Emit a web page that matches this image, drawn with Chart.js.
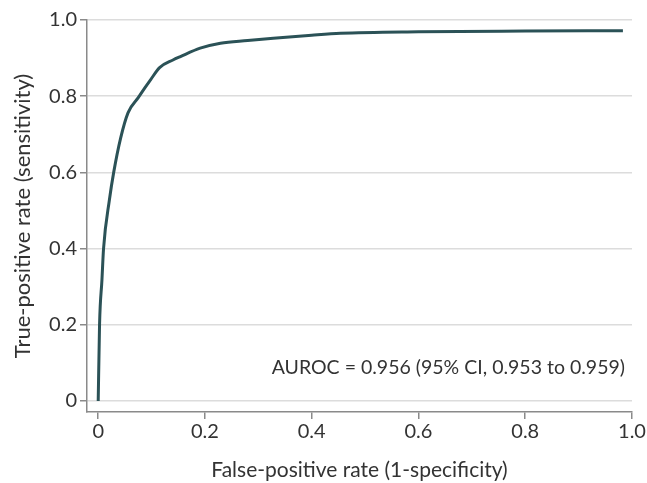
<!DOCTYPE html>
<html>
<head>
<meta charset="utf-8">
<script src="https://cdn.jsdelivr.net/npm/chart.js@4"></script>
<style>
  html, body { margin: 0; padding: 0; background: #fff; }
  #wrap { width: 647px; height: 483px; position: relative; }
</style>
</head>
<body>
<div id="wrap"><canvas id="rocChart"></canvas></div>
<script>
// ROC curve
const fprValues = [0, 0.0025, 0.007, 0.01, 0.021, 0.029, 0.042, 0.056, 0.075, 0.088, 0.098, 0.115, 0.14, 0.154, 0.191, 0.229, 0.28, 0.328, 0.4, 0.454, 0.6, 0.8, 0.983];
const tprValues = [0, 0.2, 0.318, 0.4, 0.528, 0.6, 0.69, 0.757, 0.796, 0.823, 0.843, 0.875, 0.895, 0.904, 0.926, 0.939, 0.946, 0.952, 0.96, 0.965, 0.969, 0.971, 0.972];
const xTicks = [0, 0.2, 0.4, 0.6, 0.8, 1.0];
const yTicks = [0, 0.2, 0.4, 0.6, 0.8, 1.0];
const aurocText = 'AUROC = 0.956 (95% CI, 0.953 to 0.959)';

const FONT = "Lato, 'Open Sans', sans-serif";
const TEXT_COLOR = '#333';
const AXIS_COLOR = '#8a8a8a';

const fmtTick = (v) => v === 0 ? '0' : v.toFixed(1);

const points = fprValues.map((x, i) => ({ x: x, y: tprValues[i] }));

// annotation text in the lower right of the plot
const aurocLabel = {
    id: 'aurocLabel',
    afterDatasetsDraw(chart) {
        const { ctx, chartArea } = chart;
        ctx.save();
        ctx.font = `19.5px ${FONT}`;
        ctx.fillStyle = TEXT_COLOR;
        ctx.textAlign = 'right';
        ctx.textBaseline = 'middle';
        ctx.fillText(aurocText, chartArea.right - 7, chartArea.bottom - 44);
        ctx.restore();
    }
};

const ctx = document.getElementById('rocChart').getContext('2d');
new Chart(ctx, {
    type: 'line',
    data: {
        datasets: [{
            data: points,
            borderColor: '#2b5257',
            borderWidth: 3,
            pointRadius: 0,
            fill: false,
            cubicInterpolationMode: 'monotone'
        }]
    },
    options: {
        responsive: true,
        maintainAspectRatio: false,
        animation: false,
        layout: { padding: { left: 0, right: 15, top: 20, bottom: 0 } },
        plugins: { legend: { display: false }, tooltip: { enabled: false } },
        scales: {
            x: {
                type: 'linear',
                min: -0.021,
                max: 1.0,
                afterBuildTicks: (axis) => { axis.ticks = xTicks.map(v => ({ value: v })); },
                afterFit: (axis) => { axis.height = 71; },
                border: { display: true, color: AXIS_COLOR, width: 1.5 },
                grid: { drawOnChartArea: false, drawTicks: true, tickLength: 7, color: AXIS_COLOR, lineWidth: 1.5 },
                ticks: {
                    color: TEXT_COLOR,
                    font: { family: FONT, size: 20 },
                    padding: 1,
                    maxRotation: 0,
                    callback: (v) => fmtTick(v)
                },
                title: {
                    display: true,
                    text: 'False-positive rate (1-specificity)',
                    color: TEXT_COLOR,
                    font: { family: FONT, size: 21 },
                    padding: { top: 4, bottom: 0 }
                }
            },
            y: {
                type: 'linear',
                min: -0.029,
                max: 1.0,
                afterBuildTicks: (axis) => { axis.ticks = yTicks.map(v => ({ value: v })); },
                afterFit: (axis) => { axis.width = 87; },
                border: { display: true, color: AXIS_COLOR, width: 1.5 },
                grid: { drawOnChartArea: true, drawTicks: true, tickLength: 7, color: '#dcdcdc', tickColor: AXIS_COLOR, lineWidth: 1.5 },
                ticks: {
                    color: TEXT_COLOR,
                    font: { family: FONT, size: 20 },
                    padding: 3,
                    callback: (v) => fmtTick(v)
                },
                title: {
                    display: true,
                    text: 'True-positive rate (sensitivity)',
                    color: TEXT_COLOR,
                    font: { family: FONT, size: 22 },
                    padding: { top: 10, bottom: 0 }
                }
            }
        }
    },
    plugins: [aurocLabel]
});
</script>
</body>
</html>
